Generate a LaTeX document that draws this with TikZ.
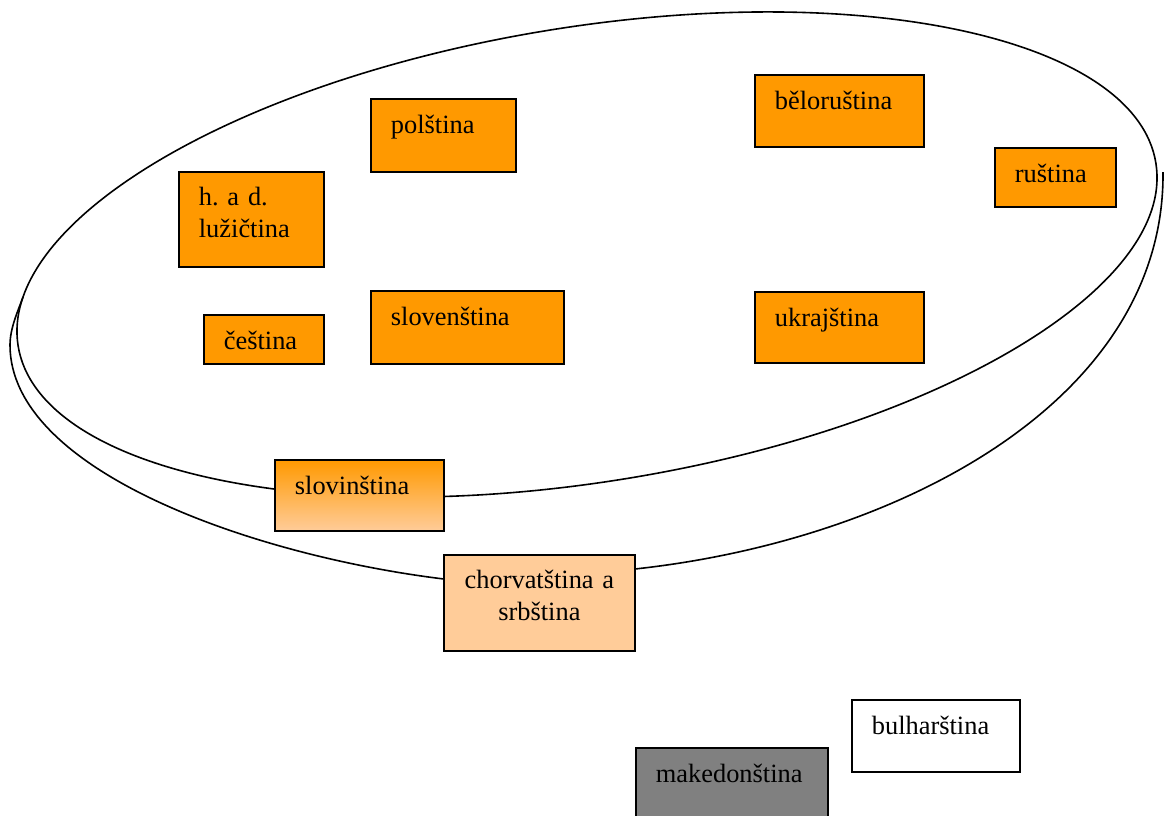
\documentclass[tikz,border=0pt]{standalone}
\usepackage{fontspec}
\setmainfont{Liberation Serif}
\definecolor{orng}{HTML}{FF9900}
\definecolor{peach}{HTML}{FFCC99}
\definecolor{grey50}{HTML}{808080}
\frenchspacing
\begin{document}
\begin{tikzpicture}[x=0.5pt,y=-0.5pt,
  lang/.style={draw=black, line width=0.9pt, rectangle, anchor=north west,
    inner xsep=10pt, inner ysep=0pt, text height=17.5pt, align=left,
    font=\fontsize{13.2pt}{16pt}\selectfont\frenchspacing},
  curve/.style={draw=black, line width=0.8pt}]
\useasboundingbox (0,0) rectangle (1166,815);
\clip (0,0) rectangle (1166,815);
% big ellipse
\draw[curve, rotate around={9.13:(587,254.5)}] (587,254.5) ellipse [x radius=576.2, y radius=227.5];
% boxes
\node[lang, fill=orng, text width=52.5pt, text depth=19pt] (pol) at (370,98) {polština};
\node[lang, fill=orng, text width=52.5pt, text depth=30.5pt, text height=17pt] (luz) at (178,171) {h. a d.\\lužičtina};
\node[lang, fill=orng, text width=40pt, text depth=7pt] (ces) at (203,314) {čeština};
\node[lang, fill=orng, text width=76.5pt, text depth=19pt] (slk) at (370,290) {slovenština};
\node[lang, fill=orng, text width=64.5pt, text depth=18.5pt] (bel) at (754,74) {běloruština};
\node[lang, fill=orng, text width=40.5pt, text depth=12pt] (rus) at (994,147) {ruština};
\node[lang, fill=orng, text width=64.5pt, text depth=18pt] (ukr) at (754,291) {ukrajština};
\node[lang, top color=orng, bottom color=peach, text width=64.5pt, text depth=18pt] (slv) at (274,459) {slovinština};
\node[lang, fill=peach, align=center, text width=75.5pt, text height=17pt, text depth=31pt] (chv) at (443,554) {chorvatština a\\srbština};
\node[lang, fill=white, text width=64pt, text depth=18.5pt] (bul) at (851,699) {bulharština};
\node[lang, fill=grey50, text width=76pt, text depth=26.5pt] (mak) at (635,747) {makedonština};
% outer arc
\coordinate (s1) at (23,297);
\coordinate (s2) at (10,345);
\coordinate (e1) at (1163,172);
\draw[curve] (s1) .. controls (18,311) and (10,328) .. (s2)
  .. controls (10,470) and (250,555) .. ([yshift=12pt]chv.west);
\draw[curve] ([yshift=17pt]chv.east) .. controls (900,540) and (1165,400) .. (e1);
\end{tikzpicture}
\end{document}
